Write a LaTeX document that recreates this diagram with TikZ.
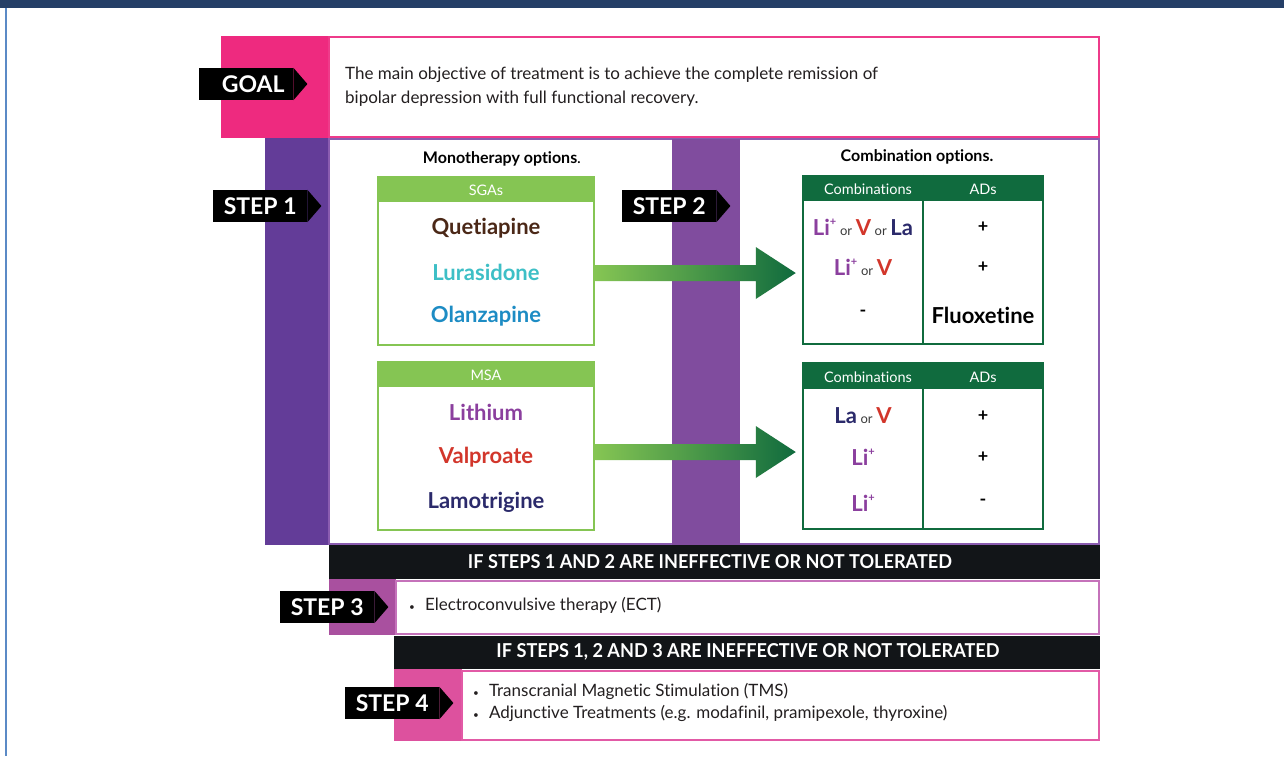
\documentclass[tikz,border=0pt]{standalone}
\usepackage{fontspec}
\setmainfont{Lato}[Ligatures=NoCommon]
\usepackage{graphicx}
\usetikzlibrary{calc}
\definecolor{cnavy}{HTML}{253F67}
\definecolor{cbline}{HTML}{5B8AC6}
\definecolor{cgpink}{HTML}{EE2A7F}
\definecolor{cgb}{HTML}{EE3B8A}
\definecolor{cs1}{HTML}{633C98}
\definecolor{cs2}{HTML}{804C9E}
\definecolor{cs3}{HTML}{A9509F}
\definecolor{cs4}{HTML}{DD519E}
\definecolor{couterb}{HTML}{8A5CB0}
\definecolor{cs3b}{HTML}{C572BA}
\definecolor{cs4b}{HTML}{E25AA6}
\definecolor{cban}{HTML}{121518}
\definecolor{clg}{HTML}{85C553}
\definecolor{cdg}{HTML}{106B3E}
\definecolor{cq}{HTML}{4B2817}
\definecolor{cl}{HTML}{3DBFC6}
\definecolor{co}{HTML}{1D8CC4}
\definecolor{cli}{HTML}{8B3F9E}
\definecolor{cv}{HTML}{D2362B}
\definecolor{cla}{HTML}{2B2A6B}
\definecolor{corc}{HTML}{3A3A3A}
\definecolor{ctxt}{HTML}{231F20}
\newcommand\myfs[1]{\fontsize{#1}{#1}\selectfont}
\newcommand\LiP{{\color{cli}Li\raisebox{0.45em}{\myfs{11}+}}}
\newcommand\OR{\,{\myfs{13}\mdseries\color{corc}or}\,}
\newcommand\bul{{\myfs{10}\textbullet}\hspace{10pt}}
\tikzset{
  lbl/.style={fill=black, text=white, minimum width=94pt, minimum height=32pt, inner sep=0pt, anchor=west, font=\myfs{23}\bfseries},
  gbox/.style={draw=clg, line width=2.5pt, fill=white, minimum width=216pt, inner sep=0pt},
  tbox/.style={draw=cdg, line width=2.5pt, fill=white, minimum width=240pt, inner sep=0pt},
  hdr/.style={text=white, font=\myfs{14.5}, inner sep=0pt},
  drug/.style={font=\myfs{22}\bfseries, inner sep=0pt},
  cell/.style={font=\myfs{22}\bfseries, inner sep=0pt},
  plus/.style={font=\myfs{18}\bfseries, inner sep=0pt},
  title/.style={font=\myfs{16}\bfseries, inner sep=0pt, text=black},
  body/.style={font=\fontsize{17}{24}\selectfont, text=ctxt, inner sep=0pt, anchor=west, align=left},
  bantxt/.style={text=white, font=\bfseries, inner sep=0pt},
}
\begin{document}
\begin{tikzpicture}[x=1pt,y=-1pt]
\useasboundingbox (0,0) rectangle (1284,756);
\fill[white] (0,0) rectangle (1284,756);
% frame
\fill[cnavy] (0,0) rectangle (1284,8);
\fill[cbline] (5,8) rectangle (7,756);
% goal
\fill[cgpink] (221,36) rectangle (329,138);
\draw[cgb, line width=2pt, fill=white] (329,37) rectangle (1099,137);
\node[body] (goaltxt) at (345,87) {The main objective of treatment is to achieve the complete remission of\\bipolar depression with full functional recovery.};
% step 1/2 region
\fill[cs1] (265,138) rectangle (329,545);
\draw[couterb, line width=1.5pt, fill=white] (329,139) rectangle (1099,544);
\fill[cs2] (672,139) rectangle (740,545);
\node[title] (mono) at (502,159) {Monotherapy options{\mdseries.}};
\node[title] (combo) at (917,157) {Combination options.};
% SGA box
\node[gbox, minimum height=168pt] (sga) at (486,261) {};
\fill[clg] (sga.north west) rectangle ($(sga.north east)+(0,26)$);
\node[hdr] (sgah) at (486,190) {SGAs};
\node[drug, text=cq] (que) at (486,228) {Quetiapine};
\node[drug, text=cl] (lur) at (486,272) {Lurasidone};
\node[drug, text=co] (ola) at (486,316) {Olanzapine};
% MSA box
\node[gbox, minimum height=168pt] (msa) at (486,446) {};
\fill[clg] (msa.north west) rectangle ($(msa.north east)+(0,26)$);
\node[hdr] (msah) at (486,375) {MSA};
\node[drug, text=cli] (lit) at (486,412) {Lithium};
\node[drug, text=cv] (val) at (486,457) {Valproate};
\node[drug, text=cla] (lam) at (486,502) {Lamotrigine};
% table 1
\node[tbox, minimum height=168pt] (t1) at (923,260) {};
\fill[cdg] (t1.north west) rectangle ($(t1.north east)+(0,26)$);
\draw[cdg, line width=2.5pt] (t1.north) -- (t1.south);
\node[hdr] (t1h1) at (868,189) {Combinations};
\node[hdr] (t1h2) at (983,189) {ADs};
\node[cell] (t1a) at (863,227) {\LiP\OR{\color{cv}V}\OR{\color{cla}La}};
\node[cell] (t1b) at (863,267) {\LiP\OR{\color{cv}V}};
\node[plus] (t1c) at (863,313) {-};
\node[plus] (t1d) at (983,227) {+};
\node[plus] (t1e) at (983,267) {+};
\node[cell] (t1f) at (983,315) {Fluoxetine};
% table 2
\node[tbox, minimum height=166pt] (t2) at (923,446) {};
\fill[cdg] (t2.north west) rectangle ($(t2.north east)+(0,27)$);
\draw[cdg, line width=2.5pt] (t2.north) -- (t2.south);
\node[hdr] (t2h1) at (868,377) {Combinations};
\node[hdr] (t2h2) at (983,377) {ADs};
\node[cell] (t2a) at (863,416) {{\color{cla}La}\OR{\color{cv}V}};
\node[cell] (t2b) at (863,457) {\LiP};
\node[cell] (t2c) at (863,503) {\LiP};
\node[plus] (t2d) at (983,416) {+};
\node[plus] (t2e) at (983,457) {+};
\node[plus] (t2f) at (983,502) {-};
% arrows
\coordinate (a1s) at (sga.east |- 0,273);
\coordinate (a1e) at (t1.west |- 0,273);
\coordinate (a2s) at (msa.east |- 0,452);
\coordinate (a2e) at (t2.west |- 0,452);
\shade[left color=clg, right color=cdg]
  ($(a1s)+(0,-8)$) -- ($(a1e)+(-46,-8)$) -- ($(a1e)+(-46,-26)$) -- ($(a1e)+(-6,0)$) -- ($(a1e)+(-46,26)$) -- ($(a1e)+(-46,8)$) -- ($(a1s)+(0,8)$) -- cycle;
\shade[left color=clg, right color=cdg]
  ($(a2s)+(0,-8)$) -- ($(a2e)+(-46,-8)$) -- ($(a2e)+(-46,-26)$) -- ($(a2e)+(-6,0)$) -- ($(a2e)+(-46,26)$) -- ($(a2e)+(-46,8)$) -- ($(a2s)+(0,8)$) -- cycle;
% banner 1 and step 3
\fill[cban] (329,545) rectangle (1100,579);
\node[bantxt] (ban1) at (710,562) {\resizebox{484pt}{14pt}{IF STEPS 1 AND 2 ARE INEFFECTIVE OR NOT TOLERATED}};
\fill[cs3] (329,579) rectangle (396,635);
\draw[cs3b, line width=1.5pt, fill=white] (396,581) rectangle (1099,634);
\node[body] (s3txt) at (409,605) {\bul Electroconvulsive therapy (ECT)};
% banner 2 and step 4
\fill[cban] (394,636) rectangle (1100,669);
\node[bantxt] (ban2) at (748,652) {\resizebox{503pt}{14pt}{IF STEPS 1, 2 AND 3 ARE INEFFECTIVE OR NOT TOLERATED}};
\fill[cs4] (394,669) rectangle (462,741);
\draw[cs4b, line width=2pt, fill=white] (462,671) rectangle (1099,740);
\node[body, font=\fontsize{17}{22}\selectfont] (s4txt) at (473,702) {\bul Transcranial Magnetic Stimulation (TMS)\\\bul Adjunctive Treatments (e.g. modafinil, pramipexole, thyroxine)};
% labels
\node[lbl] (goal) at (199,84) {\hspace{14pt}GOAL};
\fill (goal.north east) -- ($(goal.east)+(14,0)$) -- (goal.south east) -- cycle;
\node[lbl] (st1) at (213,206) {STEP~1};
\fill (st1.north east) -- ($(st1.east)+(14,0)$) -- (st1.south east) -- cycle;
\node[lbl] (st2) at (622,206) {STEP~2};
\fill (st2.north east) -- ($(st2.east)+(14,0)$) -- (st2.south east) -- cycle;
\node[lbl] (st3) at (280,607) {STEP~3};
\fill (st3.north east) -- ($(st3.east)+(14,0)$) -- (st3.south east) -- cycle;
\node[lbl] (st4) at (345,703) {STEP~4};
\fill (st4.north east) -- ($(st4.east)+(14,0)$) -- (st4.south east) -- cycle;
\end{tikzpicture}
\end{document}
